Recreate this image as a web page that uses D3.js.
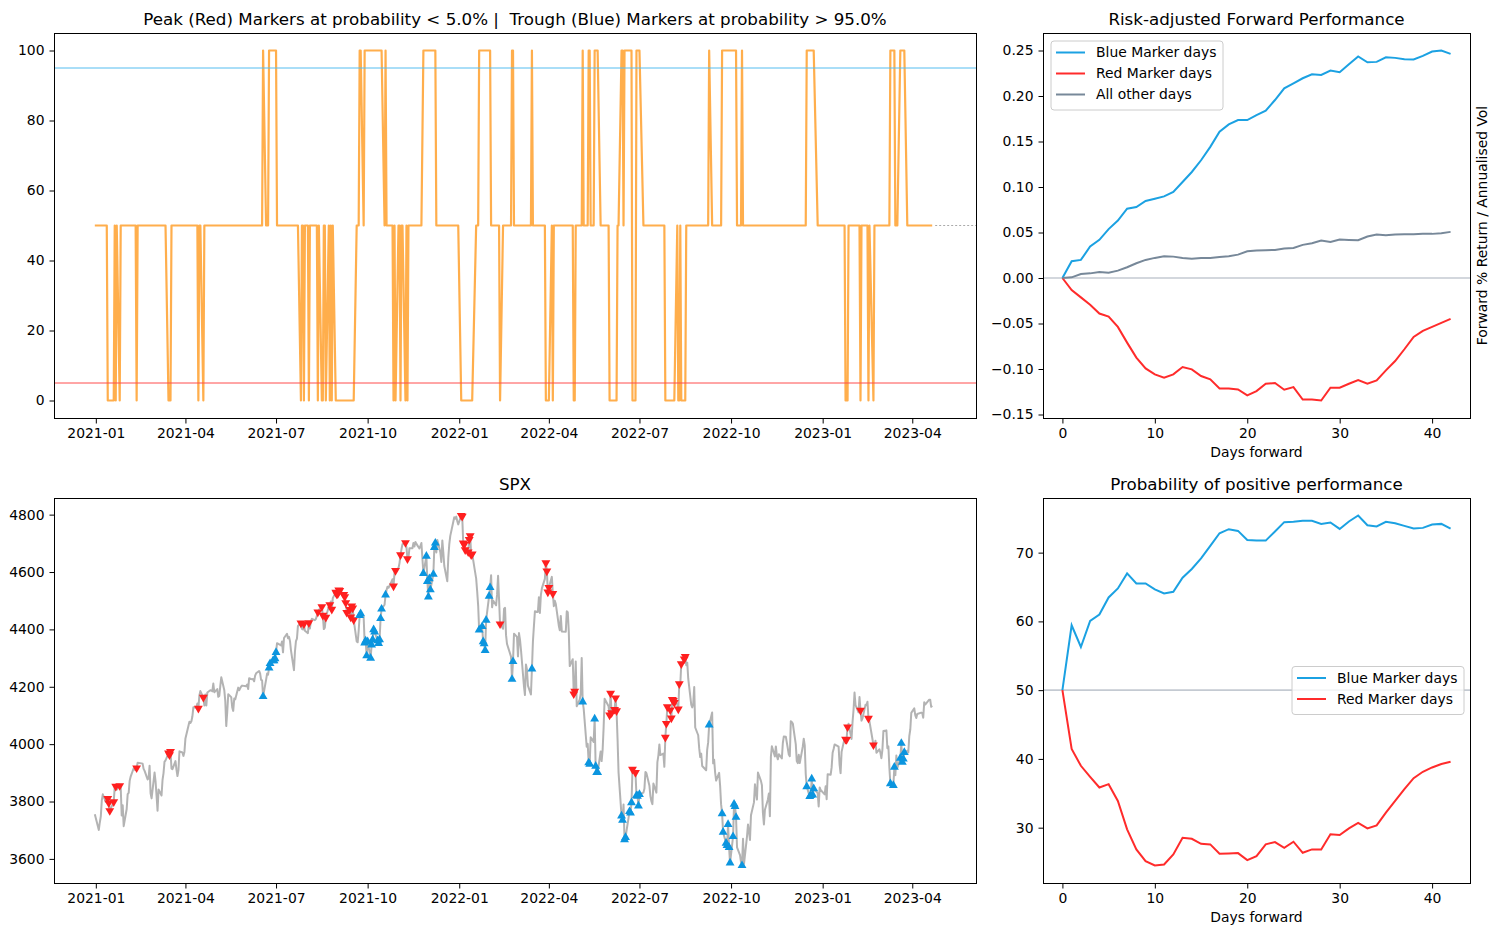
<!DOCTYPE html>
<html>
<head>
<meta charset="utf-8">
<script src="https://cdn.jsdelivr.net/npm/d3@7"></script>
<style>
  body { margin: 0; background: #fff; }
  svg text { font-family: "DejaVu Sans", sans-serif; fill: #000; }
</style>
</head>
<body>
<script>
// ---------- data ----------
// SPX daily close
const spx = [
  ["2020-12-31",3756],
  ["2021-01-04",3701],["2021-01-05",3727],["2021-01-06",3748],["2021-01-07",3804],["2021-01-08",3825],["2021-01-11",3799],["2021-01-12",3801],["2021-01-13",3810],["2021-01-14",3795],["2021-01-15",3768],["2021-01-19",3799],["2021-01-20",3852],["2021-01-21",3853],["2021-01-22",3841],["2021-01-25",3855],["2021-01-26",3849],["2021-01-27",3751],["2021-01-28",3787],["2021-01-29",3714],
  ["2021-02-01",3774],["2021-02-02",3826],["2021-02-03",3830],["2021-02-04",3872],["2021-02-05",3887],["2021-02-08",3916],["2021-02-09",3911],["2021-02-10",3910],["2021-02-11",3917],["2021-02-12",3935],["2021-02-16",3933],["2021-02-17",3932],["2021-02-18",3914],["2021-02-19",3907],["2021-02-22",3877],["2021-02-23",3881],["2021-02-24",3925],["2021-02-25",3829],["2021-02-26",3811],
  ["2021-03-01",3901],["2021-03-02",3870],["2021-03-03",3820],["2021-03-04",3768],["2021-03-05",3842],["2021-03-08",3821],["2021-03-09",3875],["2021-03-10",3899],["2021-03-11",3939],["2021-03-12",3943],["2021-03-15",3969],["2021-03-16",3963],["2021-03-17",3974],["2021-03-18",3915],["2021-03-19",3913],["2021-03-22",3941],["2021-03-23",3911],["2021-03-24",3889],["2021-03-25",3910],["2021-03-26",3975],["2021-03-29",3971],["2021-03-30",3959],["2021-03-31",3973],
  ["2021-04-01",4020],["2021-04-05",4078],["2021-04-06",4074],["2021-04-07",4080],["2021-04-08",4097],["2021-04-09",4129],["2021-04-12",4128],["2021-04-13",4142],["2021-04-14",4125],["2021-04-15",4170],["2021-04-16",4185],["2021-04-19",4163],["2021-04-20",4135],["2021-04-21",4173],["2021-04-22",4135],["2021-04-23",4180],["2021-04-26",4188],["2021-04-27",4187],["2021-04-28",4184],["2021-04-29",4211],["2021-04-30",4181],
  ["2021-05-03",4192],["2021-05-04",4165],["2021-05-05",4168],["2021-05-06",4202],["2021-05-07",4233],["2021-05-10",4189],["2021-05-11",4152],["2021-05-12",4063],["2021-05-13",4113],["2021-05-14",4174],["2021-05-17",4164],["2021-05-18",4128],["2021-05-19",4116],["2021-05-20",4159],["2021-05-21",4156],["2021-05-24",4197],["2021-05-25",4188],["2021-05-26",4195],["2021-05-27",4201],["2021-05-28",4204],
  ["2021-06-01",4202],["2021-06-02",4208],["2021-06-03",4192],["2021-06-04",4230],["2021-06-07",4226],["2021-06-08",4227],["2021-06-09",4219],["2021-06-10",4239],["2021-06-11",4247],["2021-06-14",4255],["2021-06-15",4247],["2021-06-16",4224],["2021-06-17",4222],["2021-06-18",4166],["2021-06-21",4224],["2021-06-22",4246],["2021-06-23",4242],["2021-06-24",4266],["2021-06-25",4281],["2021-06-28",4291],["2021-06-29",4291],["2021-06-30",4298],
  ["2021-07-01",4320],["2021-07-02",4352],["2021-07-06",4344],["2021-07-07",4358],["2021-07-08",4320],["2021-07-09",4370],["2021-07-12",4385],["2021-07-13",4369],["2021-07-14",4374],["2021-07-15",4360],["2021-07-16",4327],["2021-07-19",4258],["2021-07-20",4323],["2021-07-21",4359],["2021-07-22",4368],["2021-07-23",4412],["2021-07-26",4422],["2021-07-27",4402],["2021-07-28",4400],["2021-07-29",4419],["2021-07-30",4395],
  ["2021-08-02",4387],["2021-08-03",4423],["2021-08-04",4403],["2021-08-05",4429],["2021-08-06",4437],["2021-08-09",4432],["2021-08-10",4436],["2021-08-11",4447],["2021-08-12",4460],["2021-08-13",4468],["2021-08-16",4479],["2021-08-17",4449],["2021-08-18",4401],["2021-08-19",4406],["2021-08-20",4442],["2021-08-23",4480],["2021-08-24",4486],["2021-08-25",4497],["2021-08-26",4470],["2021-08-27",4509],["2021-08-30",4529],["2021-08-31",4523],
  ["2021-09-01",4524],["2021-09-02",4537],["2021-09-03",4535],["2021-09-07",4521],["2021-09-08",4514],["2021-09-09",4493],["2021-09-10",4459],["2021-09-13",4469],["2021-09-14",4443],["2021-09-15",4481],["2021-09-16",4474],["2021-09-17",4433],["2021-09-20",4358],["2021-09-21",4355],["2021-09-22",4396],["2021-09-23",4449],["2021-09-24",4455],["2021-09-27",4443],["2021-09-28",4353],["2021-09-29",4360],["2021-09-30",4308],
  ["2021-10-01",4357],["2021-10-04",4300],["2021-10-05",4346],["2021-10-06",4364],["2021-10-07",4399],["2021-10-08",4391],["2021-10-11",4361],["2021-10-12",4351],["2021-10-13",4364],["2021-10-14",4438],["2021-10-15",4471],["2021-10-18",4486],["2021-10-19",4520],["2021-10-20",4537],["2021-10-21",4549],["2021-10-22",4545],["2021-10-25",4567],["2021-10-26",4575],["2021-10-27",4551],["2021-10-28",4597],["2021-10-29",4605],
  ["2021-11-01",4614],["2021-11-02",4631],["2021-11-03",4660],["2021-11-04",4680],["2021-11-05",4697],["2021-11-08",4702],["2021-11-09",4686],["2021-11-10",4646],["2021-11-11",4649],["2021-11-12",4683],["2021-11-15",4683],["2021-11-16",4701],["2021-11-17",4689],["2021-11-18",4705],["2021-11-19",4698],["2021-11-22",4682],["2021-11-23",4691],["2021-11-24",4701],["2021-11-26",4595],["2021-11-29",4655],["2021-11-30",4567],
  ["2021-12-01",4513],["2021-12-02",4577],["2021-12-03",4538],["2021-12-06",4592],["2021-12-07",4686],["2021-12-08",4701],["2021-12-09",4668],["2021-12-10",4712],["2021-12-13",4669],["2021-12-14",4635],["2021-12-15",4710],["2021-12-16",4669],["2021-12-17",4621],["2021-12-20",4568],["2021-12-21",4649],["2021-12-22",4697],["2021-12-23",4726],["2021-12-27",4791],["2021-12-28",4786],["2021-12-29",4793],["2021-12-30",4778],["2021-12-31",4766],
  ["2022-01-03",4797],["2022-01-04",4794],["2022-01-05",4701],["2022-01-06",4696],["2022-01-07",4677],["2022-01-10",4670],["2022-01-11",4713],["2022-01-12",4726],["2022-01-13",4660],["2022-01-14",4663],["2022-01-18",4577],["2022-01-19",4533],["2022-01-20",4483],["2022-01-21",4398],["2022-01-24",4410],["2022-01-25",4357],["2022-01-26",4350],["2022-01-27",4327],["2022-01-28",4432],["2022-01-31",4516],
  ["2022-02-01",4546],["2022-02-02",4589],["2022-02-03",4477],["2022-02-04",4501],["2022-02-07",4484],["2022-02-08",4522],["2022-02-09",4587],["2022-02-10",4504],["2022-02-11",4419],["2022-02-14",4402],["2022-02-15",4472],["2022-02-16",4475],["2022-02-17",4380],["2022-02-18",4349],["2022-02-22",4305],["2022-02-23",4226],["2022-02-24",4288],["2022-02-25",4385],["2022-02-28",4374],
  ["2022-03-01",4306],["2022-03-02",4387],["2022-03-03",4364],["2022-03-04",4329],["2022-03-07",4201],["2022-03-08",4171],["2022-03-09",4278],["2022-03-10",4260],["2022-03-11",4204],["2022-03-14",4173],["2022-03-15",4262],["2022-03-16",4358],["2022-03-17",4412],["2022-03-18",4463],["2022-03-21",4461],["2022-03-22",4512],["2022-03-23",4457],["2022-03-24",4520],["2022-03-25",4543],["2022-03-28",4576],["2022-03-29",4632],["2022-03-30",4603],["2022-03-31",4530],
  ["2022-04-01",4546],["2022-04-04",4583],["2022-04-05",4525],["2022-04-06",4481],["2022-04-07",4500],["2022-04-08",4488],["2022-04-11",4413],["2022-04-12",4397],["2022-04-13",4447],["2022-04-14",4393],["2022-04-18",4392],["2022-04-19",4463],["2022-04-20",4460],["2022-04-21",4394],["2022-04-22",4272],["2022-04-25",4296],["2022-04-26",4175],["2022-04-27",4184],["2022-04-28",4288],["2022-04-29",4132],
  ["2022-05-02",4155],["2022-05-03",4175],["2022-05-04",4300],["2022-05-05",4147],["2022-05-06",4123],["2022-05-09",3991],["2022-05-10",4001],["2022-05-11",3935],["2022-05-12",3930],["2022-05-13",4024],["2022-05-16",4008],["2022-05-17",4088],["2022-05-18",3923],["2022-05-19",3901],["2022-05-20",3901],["2022-05-23",3974],["2022-05-24",3941],["2022-05-25",3979],["2022-05-26",4058],["2022-05-27",4158],["2022-05-31",4132],
  ["2022-06-01",4101],["2022-06-02",4177],["2022-06-03",4109],["2022-06-06",4121],["2022-06-07",4161],["2022-06-08",4116],["2022-06-09",4018],["2022-06-10",3901],["2022-06-13",3750],["2022-06-14",3735],["2022-06-15",3790],["2022-06-16",3667],["2022-06-17",3675],["2022-06-21",3765],["2022-06-22",3760],["2022-06-23",3796],["2022-06-24",3912],["2022-06-27",3901],["2022-06-28",3821],["2022-06-29",3819],["2022-06-30",3785],
  ["2022-07-01",3825],["2022-07-05",3831],["2022-07-06",3845],["2022-07-07",3903],["2022-07-08",3899],["2022-07-11",3855],["2022-07-12",3819],["2022-07-13",3801],["2022-07-14",3791],["2022-07-15",3863],["2022-07-18",3831],["2022-07-19",3937],["2022-07-20",3960],["2022-07-21",3999],["2022-07-22",3962],["2022-07-25",3967],["2022-07-26",3921],["2022-07-27",4024],["2022-07-28",4072],["2022-07-29",4130],
  ["2022-08-01",4119],["2022-08-02",4091],["2022-08-03",4155],["2022-08-04",4152],["2022-08-05",4145],["2022-08-08",4140],["2022-08-09",4122],["2022-08-10",4210],["2022-08-11",4208],["2022-08-12",4280],["2022-08-15",4297],["2022-08-16",4305],["2022-08-17",4275],["2022-08-18",4284],["2022-08-19",4228],["2022-08-22",4138],["2022-08-23",4128],["2022-08-24",4141],["2022-08-25",4199],["2022-08-26",4058],["2022-08-29",4031],["2022-08-30",3986],["2022-08-31",3955],
  ["2022-09-01",3967],["2022-09-02",3924],["2022-09-06",3909],["2022-09-07",3980],["2022-09-08",4006],["2022-09-09",4067],["2022-09-12",4110],["2022-09-13",3933],["2022-09-14",3946],["2022-09-15",3901],["2022-09-16",3873],["2022-09-19",3900],["2022-09-20",3856],["2022-09-21",3790],["2022-09-22",3758],["2022-09-23",3693],["2022-09-26",3655],["2022-09-27",3647],["2022-09-28",3720],["2022-09-29",3640],["2022-09-30",3586],
  ["2022-10-03",3678],["2022-10-04",3791],["2022-10-05",3783],["2022-10-06",3745],["2022-10-07",3640],["2022-10-10",3613],["2022-10-11",3589],["2022-10-12",3577],["2022-10-13",3670],["2022-10-14",3583],["2022-10-17",3678],["2022-10-18",3720],["2022-10-19",3695],["2022-10-20",3666],["2022-10-21",3752],["2022-10-24",3797],["2022-10-25",3860],["2022-10-26",3831],["2022-10-27",3807],["2022-10-28",3901],["2022-10-31",3872],
  ["2022-11-01",3857],["2022-11-02",3760],["2022-11-03",3720],["2022-11-04",3771],["2022-11-07",3807],["2022-11-08",3828],["2022-11-09",3749],["2022-11-10",3957],["2022-11-11",3993],["2022-11-14",3957],["2022-11-15",3992],["2022-11-16",3959],["2022-11-17",3947],["2022-11-18",3965],["2022-11-21",3950],["2022-11-22",4004],["2022-11-23",4027],["2022-11-25",4026],["2022-11-28",3964],["2022-11-29",3958],["2022-11-30",4080],
  ["2022-12-01",4077],["2022-12-02",4072],["2022-12-05",3999],["2022-12-06",3941],["2022-12-07",3934],["2022-12-08",3963],["2022-12-09",3934],["2022-12-12",3991],["2022-12-13",4019],["2022-12-14",3996],["2022-12-15",3896],["2022-12-16",3852],["2022-12-19",3818],["2022-12-20",3821],["2022-12-21",3879],["2022-12-22",3823],["2022-12-23",3845],["2022-12-27",3829],["2022-12-28",3783],["2022-12-29",3849],["2022-12-30",3840],
  ["2023-01-03",3825],["2023-01-04",3853],["2023-01-05",3808],["2023-01-06",3895],["2023-01-09",3893],["2023-01-10",3919],["2023-01-11",3970],["2023-01-12",3983],["2023-01-13",3999],["2023-01-17",3991],["2023-01-18",3929],["2023-01-19",3899],["2023-01-20",3973],["2023-01-23",4020],["2023-01-24",4017],["2023-01-25",4016],["2023-01-26",4060],["2023-01-27",4071],["2023-01-30",4018],["2023-01-31",4077],
  ["2023-02-01",4119],["2023-02-02",4180],["2023-02-03",4136],["2023-02-06",4111],["2023-02-07",4164],["2023-02-08",4118],["2023-02-09",4082],["2023-02-10",4090],["2023-02-13",4137],["2023-02-14",4136],["2023-02-15",4148],["2023-02-16",4090],["2023-02-17",4079],["2023-02-21",3997],["2023-02-22",3991],["2023-02-23",4012],["2023-02-24",3970],["2023-02-27",3982],["2023-02-28",3970],
  ["2023-03-01",3951],["2023-03-02",3981],["2023-03-03",4046],["2023-03-06",4048],["2023-03-07",3986],["2023-03-08",3992],["2023-03-09",3919],["2023-03-10",3862],["2023-03-13",3856],["2023-03-14",3920],["2023-03-15",3892],["2023-03-16",3960],["2023-03-17",3917],["2023-03-20",3951],["2023-03-21",4003],["2023-03-22",3937],["2023-03-23",3948],["2023-03-24",3971],["2023-03-27",3977],["2023-03-28",3971],["2023-03-29",4028],["2023-03-30",4051],["2023-03-31",4109],
  ["2023-04-03",4125],["2023-04-04",4101],["2023-04-05",4091],["2023-04-06",4105],["2023-04-10",4110],["2023-04-11",4109],["2023-04-12",4092],["2023-04-13",4146],["2023-04-14",4138],["2023-04-17",4151],["2023-04-18",4155],["2023-04-19",4155],["2023-04-20",4130],["2023-04-21",4134]
];

// probability runs: value holds from the date until the next entry
const probRuns = [
  ["2020-12-31",50],
  ["2021-01-13",0],["2021-01-20",50],["2021-01-21",0],["2021-01-22",50],["2021-01-25",0],["2021-01-26",50],
  ["2021-02-11",0],["2021-02-12",50],
  ["2021-03-15",0],["2021-03-18",50],
  ["2021-04-14",0],["2021-04-15",50],["2021-04-19",0],["2021-04-20",50],
  ["2021-06-18",100],["2021-06-21",50],["2021-06-24",100],["2021-07-02",50],
  ["2021-07-26",0],["2021-07-27",50],["2021-07-29",0],["2021-07-30",50],["2021-08-03",0],["2021-08-04",50],
  ["2021-08-12",0],["2021-08-13",50],["2021-08-16",0],["2021-08-18",50],["2021-08-20",0],["2021-08-23",50],
  ["2021-08-24",0],["2021-08-25",50],["2021-08-26",0],["2021-08-27",50],["2021-08-30",0],["2021-09-20",50],
  ["2021-09-23",100],["2021-09-27",50],["2021-09-28",100],["2021-10-18",50],["2021-10-19",100],["2021-10-20",50],
  ["2021-10-27",0],["2021-10-28",50],["2021-10-29",0],["2021-11-01",50],["2021-11-03",0],["2021-11-04",50],
  ["2021-11-08",0],["2021-11-09",50],["2021-11-10",0],["2021-11-11",50],
  ["2021-11-26",100],["2021-12-09",50],
  ["2022-01-03",0],["2022-01-18",50],
  ["2022-01-21",100],["2022-02-02",50],
  ["2022-02-11",0],["2022-02-14",50],
  ["2022-02-23",100],["2022-02-25",50],
  ["2022-03-15",100],["2022-03-16",50],
  ["2022-03-29",0],["2022-04-04",50],["2022-04-05",0],["2022-04-06",50],
  ["2022-04-26",0],["2022-04-28",50],
  ["2022-05-05",100],["2022-05-06",50],["2022-05-11",100],["2022-05-13",50],["2022-05-17",100],["2022-05-23",50],
  ["2022-06-01",0],["2022-06-09",50],
  ["2022-06-13",100],["2022-06-15",50],["2022-06-16",100],["2022-06-24",0],["2022-06-28",100],["2022-07-05",50],
  ["2022-07-27",0],["2022-08-08",50],["2022-08-09",0],["2022-08-11",50],["2022-08-12",0],["2022-08-17",50],
  ["2022-09-09",100],["2022-09-12",50],
  ["2022-09-22",100],["2022-10-07",50],["2022-10-12",100],["2022-10-13",50],
  ["2022-12-16",100],["2022-12-27",50],
  ["2023-01-24",0],["2023-01-27",50],
  ["2023-02-08",0],["2023-02-09",50],["2023-02-16",0],["2023-02-17",50],["2023-02-21",0],["2023-02-22",50],
  ["2023-03-10",100],["2023-03-15",50],["2023-03-20",100],["2023-03-27",50]
];
const probTail = [["2023-04-24",50],["2023-06-04",50]];
const peakLevel = 5;
const troughLevel = 95;

const probTicks = [0, 20, 40, 60, 80, 100];
const spxTicks = [3600, 3800, 4000, 4200, 4400, 4600, 4800];
const dateDomain = ["2020-11-20", "2023-06-04"];

// forward performance (days 0..42)
const daysForward = d3.range(0, 43);
const riskBlue = [0,0.0184,0.0199,0.0346,0.042,0.0537,0.0632,0.0761,0.078,0.0846,0.0871,0.0897,0.0945,0.1055,0.1165,0.1294,0.1441,0.1607,0.1688,0.1735,0.1735,0.179,0.1838,0.1956,0.2085,0.214,0.2195,0.2239,0.2232,0.2279,0.2261,0.2349,0.2434,0.2371,0.2375,0.2426,0.2419,0.2404,0.2401,0.2441,0.2489,0.25,0.2463];
const riskRed = [0,-0.0132,-0.0213,-0.0294,-0.039,-0.0423,-0.0537,-0.071,-0.0875,-0.0993,-0.1059,-0.1096,-0.1059,-0.0978,-0.1004,-0.1077,-0.1114,-0.1213,-0.1213,-0.1224,-0.129,-0.1243,-0.1162,-0.1154,-0.1228,-0.1199,-0.1335,-0.1335,-0.1346,-0.1206,-0.1206,-0.1162,-0.1121,-0.1162,-0.1125,-0.1015,-0.0912,-0.0783,-0.0647,-0.0581,-0.0537,-0.0493,-0.0449];
const riskOther = [0,0.0007,0.0044,0.0051,0.0066,0.0059,0.0081,0.0118,0.0162,0.0199,0.0221,0.0239,0.0235,0.0221,0.0213,0.0221,0.0221,0.0232,0.0239,0.0257,0.0294,0.0301,0.0305,0.0309,0.0324,0.0331,0.0364,0.0382,0.0412,0.0397,0.0423,0.0419,0.0415,0.0456,0.0478,0.0471,0.0478,0.0482,0.0482,0.0485,0.0485,0.0493,0.0507];
const posBlue = [50,59.44,56.28,60.07,61.0,63.48,64.79,66.98,65.52,65.52,64.65,64.06,64.31,66.35,67.62,69.17,70.97,72.82,73.41,73.16,71.85,71.75,71.75,73.07,74.43,74.48,74.62,74.62,74.18,74.38,73.45,74.53,75.4,73.99,73.8,74.48,74.28,73.89,73.5,73.6,74.09,74.18,73.5];
const posRed = [50,41.44,39.0,37.4,35.84,36.33,33.89,29.76,26.84,25.13,24.5,24.65,26.11,28.54,28.39,27.66,27.57,26.2,26.25,26.3,25.28,25.86,27.57,27.91,27.08,27.96,26.35,26.84,26.84,29.03,28.93,29.9,30.68,29.9,30.34,32.19,33.89,35.6,37.2,38.13,38.76,39.25,39.59];
const dayTicks = [0, 10, 20, 30, 40];
const riskTicks = [-0.15, -0.10, -0.05, 0, 0.05, 0.10, 0.15, 0.20, 0.25];
const posTicks = [30, 40, 50, 60, 70];

// ---------- setup ----------
const COL_BLUE = '#1ba1e2';
const COL_RED = '#ff2b2b';
const COL_GREY = '#778899';
const FS = 13.9;

const parse = d3.utcParse('%Y-%m-%d');
const series = spx.map(([d, c]) => ({ date: parse(d), close: c }));
const runDates = probRuns.map((r) => parse(r[0]));
series.forEach((p) => {
	p.prob = probRuns[d3.bisectRight(runDates, p.date) - 1][1];
});

// matplotlib style 5% autoscale margins
const pad = ([a, b]) => [a - (b - a) * 0.05, b + (b - a) * 0.05];

const svg = d3.select('body').append('svg').attr('width', 1489).attr('height', 926);

const boxL = { x0: 54, x1: 976 };
const boxR = { x0: 1043, x1: 1470 };
const rowT = { y0: 33, y1: 418 };
const rowB = { y0: 498, y1: 883 };

function clip(id, bx, by) {
	svg.append('clipPath').attr('id', id).append('rect')
		.attr('x', bx.x0).attr('y', by.y0)
		.attr('width', bx.x1 - bx.x0).attr('height', by.y1 - by.y0);
}

function frame(bx, by) {
	svg.append('rect')
		.attr('x', bx.x0 + 0.5).attr('y', by.y0 + 0.5)
		.attr('width', bx.x1 - bx.x0).attr('height', by.y1 - by.y0)
		.attr('fill', 'none').attr('stroke', '#000').attr('stroke-width', 1);
}

function styleAxis(g) {
	g.attr('font-size', FS).attr('font-family', '"DejaVu Sans", sans-serif');
	g.select('.domain').remove();
	g.selectAll('.tick line').attr('stroke', '#000').attr('stroke-width', 1);
	g.selectAll('.tick text').attr('fill', '#000');
}

function xAxisAt(scale, by, ticks, fmt) {
	const ax = d3.axisBottom(scale).tickSize(5).tickPadding(5);
	if (Array.isArray(ticks)) ax.tickValues(ticks);
	else ax.ticks(ticks);
	if (fmt) ax.tickFormat(fmt);
	svg.append('g').attr('transform', `translate(0,${by.y1 + 0.5})`).call(ax).call(styleAxis);
}

function yAxisAt(scale, bx, ticks, fmt) {
	const ax = d3.axisLeft(scale).tickSize(5).tickPadding(5).tickValues(ticks);
	if (fmt) ax.tickFormat(fmt);
	svg.append('g').attr('transform', `translate(${bx.x0 + 0.5},0)`).call(ax).call(styleAxis);
}

function title(txt, bx, by) {
	svg.append('text')
		.attr('x', (bx.x0 + bx.x1) / 2).attr('y', by.y0 - 8)
		.attr('text-anchor', 'middle').attr('font-size', 16.7)
		.style('white-space', 'pre')
		.text(txt);
}

function legend(x, y, w, items) {
	const rowH = 21;
	const h = items.length * rowH + 6;
	const g = svg.append('g').attr('transform', `translate(${x},${y})`);
	g.append('rect').attr('width', w).attr('height', h).attr('rx', 3)
		.attr('fill', '#fff').attr('fill-opacity', 0.8)
		.attr('stroke', '#ccc').attr('stroke-width', 1);
	items.forEach((it, i) => {
		const cy = 11.5 + i * rowH;
		g.append('line').attr('x1', 5).attr('x2', 34).attr('y1', cy).attr('y2', cy)
			.attr('stroke', it.color).attr('stroke-width', 2);
		g.append('text').attr('x', 45).attr('y', cy).attr('dy', '0.35em')
			.attr('font-size', FS).text(it.label);
	});
}

// ---------- top-left: probability ----------
const xDate = d3.scaleUtc().domain(dateDomain.map(parse)).range([boxL.x0, boxL.x1]);
const yProb = d3.scaleLinear().domain(pad([0, 100])).range([rowT.y1, rowT.y0]);

clip('clipTL', boxL, rowT);
const gTL = svg.append('g').attr('clip-path', 'url(#clipTL)');

gTL.append('path')
	.datum(series)
	.attr('fill', 'none')
	.attr('stroke', '#ff8c00')
	.attr('stroke-opacity', 0.7)
	.attr('stroke-width', 2.2)
	.attr('stroke-linejoin', 'round')
	.attr('d', d3.line().x((d) => xDate(d.date)).y((d) => yProb(d.prob)));

gTL.append('path')
	.datum(probTail)
	.attr('fill', 'none')
	.attr('stroke', '#aaa')
	.attr('stroke-width', 1)
	.attr('stroke-dasharray', '2,2')
	.attr('d', d3.line().x((d) => xDate(parse(d[0]))).y((d) => yProb(d[1])));

[ [ troughLevel, '#55bdf0' ], [ peakLevel, '#ff4d4d' ] ].forEach(([ v, c ]) => {
	gTL.append('line')
		.attr('x1', boxL.x0).attr('x2', boxL.x1)
		.attr('y1', yProb(v)).attr('y2', yProb(v))
		.attr('stroke', c).attr('stroke-width', 1);
});

frame(boxL, rowT);
xAxisAt(xDate, rowT, d3.utcMonth.every(3), d3.utcFormat('%Y-%m'));
yAxisAt(yProb, boxL, probTicks);
title(`Peak (Red) Markers at probability < ${peakLevel.toFixed(1)}% |  Trough (Blue) Markers at probability > ${troughLevel.toFixed(1)}%`, boxL, rowT);

// ---------- bottom-left: SPX with markers ----------
const ySpx = d3.scaleLinear().domain(pad(d3.extent(series, (d) => d.close))).range([rowB.y1, rowB.y0]);

clip('clipBL', boxL, rowB);
const gBL = svg.append('g').attr('clip-path', 'url(#clipBL)');

gBL.append('path')
	.datum(series)
	.attr('fill', 'none')
	.attr('stroke', '#808080')
	.attr('stroke-opacity', 0.6)
	.attr('stroke-width', 2)
	.attr('stroke-linejoin', 'round')
	.attr('d', d3.line().x((d) => xDate(d.date)).y((d) => ySpx(d.close)));

const tri = d3.symbol(d3.symbolTriangle, 34);
gBL.selectAll('.peak')
	.data(series.filter((d) => d.prob < peakLevel))
	.join('path')
	.attr('class', 'peak')
	.attr('d', tri)
	.attr('fill', '#ff1f1f')
	.attr('transform', (d) => `translate(${xDate(d.date)},${ySpx(d.close)}) rotate(180)`);

gBL.selectAll('.trough')
	.data(series.filter((d) => d.prob > troughLevel))
	.join('path')
	.attr('class', 'trough')
	.attr('d', tri)
	.attr('fill', '#0b95df')
	.attr('transform', (d) => `translate(${xDate(d.date)},${ySpx(d.close)})`);

frame(boxL, rowB);
xAxisAt(xDate, rowB, d3.utcMonth.every(3), d3.utcFormat('%Y-%m'));
yAxisAt(ySpx, boxL, spxTicks, d3.format('d'));
title('SPX', boxL, rowB);

// ---------- top-right: risk-adjusted forward performance ----------
const xDay = d3.scaleLinear().domain(pad(d3.extent(daysForward))).range([boxR.x0, boxR.x1]);
const yRisk = d3.scaleLinear()
	.domain(pad(d3.extent([ ...riskBlue, ...riskRed, ...riskOther ])))
	.range([rowT.y1, rowT.y0]);

clip('clipTR', boxR, rowT);
const gTR = svg.append('g').attr('clip-path', 'url(#clipTR)');
gTR.append('line')
	.attr('x1', boxR.x0).attr('x2', boxR.x1)
	.attr('y1', yRisk(0)).attr('y2', yRisk(0))
	.attr('stroke', '#c4cad2').attr('stroke-width', 1.6);

[ [ riskBlue, COL_BLUE ], [ riskRed, COL_RED ], [ riskOther, COL_GREY ] ].forEach(([ vals, c ]) => {
	gTR.append('path')
		.datum(vals)
		.attr('fill', 'none')
		.attr('stroke', c)
		.attr('stroke-width', 2)
		.attr('d', d3.line().x((d, i) => xDay(daysForward[i])).y((d) => yRisk(d)));
});

frame(boxR, rowT);
xAxisAt(xDay, rowT, dayTicks);
yAxisAt(yRisk, boxR, riskTicks, d3.format('.2f'));
title('Risk-adjusted Forward Performance', boxR, rowT);
svg.append('text')
	.attr('x', (boxR.x0 + boxR.x1) / 2).attr('y', rowT.y1 + 39)
	.attr('text-anchor', 'middle').attr('font-size', FS).text('Days forward');
svg.append('text')
	.attr('transform', `translate(${boxR.x1 + 12},${(rowT.y0 + rowT.y1) / 2}) rotate(-90)`)
	.attr('text-anchor', 'middle').attr('dy', '0.35em')
	.attr('font-size', FS).text('Forward % Return / Annualised Vol');
legend(boxR.x0 + 8, rowT.y0 + 8, 172, [
	{ label: 'Blue Marker days', color: COL_BLUE },
	{ label: 'Red Marker days', color: COL_RED },
	{ label: 'All other days', color: COL_GREY }
]);

// ---------- bottom-right: probability of positive performance ----------
const yPos = d3.scaleLinear()
	.domain(pad(d3.extent([ ...posBlue, ...posRed ])))
	.range([rowB.y1, rowB.y0]);

clip('clipBR', boxR, rowB);
const gBR = svg.append('g').attr('clip-path', 'url(#clipBR)');
gBR.append('line')
	.attr('x1', boxR.x0).attr('x2', boxR.x1)
	.attr('y1', yPos(50)).attr('y2', yPos(50))
	.attr('stroke', '#c4cad2').attr('stroke-width', 1.6);

[ [ posBlue, COL_BLUE ], [ posRed, COL_RED ] ].forEach(([ vals, c ]) => {
	gBR.append('path')
		.datum(vals)
		.attr('fill', 'none')
		.attr('stroke', c)
		.attr('stroke-width', 2)
		.attr('d', d3.line().x((d, i) => xDay(daysForward[i])).y((d) => yPos(d)));
});

frame(boxR, rowB);
xAxisAt(xDay, rowB, dayTicks);
yAxisAt(yPos, boxR, posTicks);
title('Probability of positive performance', boxR, rowB);
svg.append('text')
	.attr('x', (boxR.x0 + boxR.x1) / 2).attr('y', rowB.y1 + 39)
	.attr('text-anchor', 'middle').attr('font-size', FS).text('Days forward');
legend(boxR.x1 - 178, (rowB.y0 + rowB.y1) / 2 - 24, 172, [
	{ label: 'Blue Marker days', color: COL_BLUE },
	{ label: 'Red Marker days', color: COL_RED }
]);
</script>
</body>
</html>
